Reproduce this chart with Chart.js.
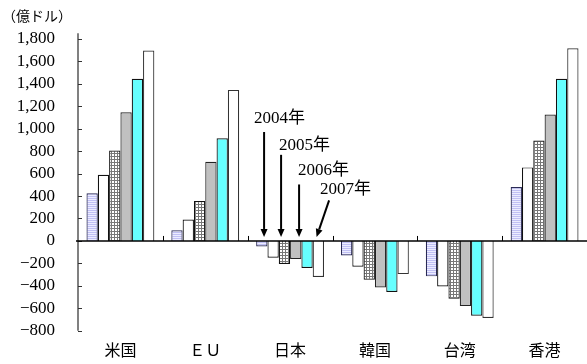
<!DOCTYPE html>
<html><head><meta charset="utf-8">
<script src="https://cdn.jsdelivr.net/npm/chart.js@4.4.1/dist/chart.umd.min.js"></script>
<style>html,body{margin:0;padding:0;background:#fff;}
.pre{font-family:'Liberation Serif';position:absolute;left:-999px;top:0}
.pre2{font-family:'Noto Sans CJK JP';position:absolute;left:-999px;top:0}</style>
</head><body>
<span class="pre">0123</span><span class="pre2">米国</span>
<canvas id="c" width="587" height="364"></canvas>
<script>
// ---- data ----
const categories = ['米国', 'ＥＵ', '日本', '韓国', '台湾', '香港'];
const seriesNames = ['2002年', '2003年', '2004年', '2005年', '2006年', '2007年'];
const y2002 = [425, 95, -50, -130, -315, 480];
const y2003 = [590, 190, -150, -230, -405, 655];
const y2004 = [805, 355, -205, -345, -515, 895];
const y2005 = [1145, 705, -160, -415, -580, 1125];
const y2006 = [1445, 915, -240, -455, -665, 1445];
const y2007 = [1695, 1345, -320, -295, -685, 1715];
const yTickValues = [-800, -600, -400, -200, 0, 200, 400, 600, 800, 1000, 1200, 1400, 1600, 1800];
const yTickLabels = ['−800', '−600', '−400', '−200', '0', '200', '400', '600', '800', '1,000', '1,200', '1,400', '1,600', '1,800'];
const unitLabel = '（億ドル）';
const annotationLabels = ['2004年', '2005年', '2006年', '2007年'];

const SERIF = '"Liberation Serif", "Noto Sans CJK JP", serif';

function makePattern(kind) {
  const c = document.createElement('canvas');
  const x = c.getContext('2d');
  if (kind === 'stripe') {
    c.width = 4; c.height = 2;
    x.fillStyle = '#c0c0f4'; x.fillRect(0, 0, 4, 1);
    x.fillStyle = '#ececff'; x.fillRect(0, 1, 4, 1);
  } else {
    c.width = 3; c.height = 3;
    x.fillStyle = '#ffffff'; x.fillRect(0, 0, 3, 3);
    x.fillStyle = '#777777'; x.fillRect(0, 0, 3, 1); x.fillRect(0, 0, 1, 3);
  }
  return x.createPattern(c, 'repeat');
}

const seriesData = [y2002, y2003, y2004, y2005, y2006, y2007];

const decor = {
  id: 'decor',
  beforeDraw(chart) {
    const ctx = chart.ctx;
    ctx.save();
    ctx.fillStyle = '#fff';
    ctx.fillRect(0, 0, chart.width, chart.height);
    ctx.restore();
  },
  afterDatasetsDraw(chart) {
    const ctx = chart.ctx;
    const xs = chart.scales.x, ys = chart.scales.y, a = chart.chartArea;
    const y0 = ys.getPixelForValue(0);
    ctx.save();
    ctx.strokeStyle = '#808080';
    ctx.lineWidth = 2;
    ctx.beginPath(); ctx.moveTo(a.left, a.top); ctx.lineTo(a.left, a.bottom); ctx.stroke();
    ctx.strokeStyle = '#333';
    ctx.lineWidth = 1;
    yTickValues.forEach(v => {
      const py = Math.round(ys.getPixelForValue(v)) + 0.5;
      ctx.beginPath(); ctx.moveTo(a.left, py); ctx.lineTo(a.left + 4, py); ctx.stroke();
    });
    ctx.strokeStyle = '#000';
    ctx.lineWidth = 1.5;
    ctx.beginPath(); ctx.moveTo(a.left - 2, y0); ctx.lineTo(a.right, y0); ctx.stroke();
    ctx.lineWidth = 1;
    for (let i = 1; i < categories.length; i++) {
      const px = Math.round((xs.getPixelForValue(i - 1) + xs.getPixelForValue(i)) / 2) + 0.5;
      ctx.beginPath(); ctx.moveTo(px, y0); ctx.lineTo(px, y0 - 5); ctx.stroke();
    }
    ctx.fillStyle = '#000';
    ctx.font = '14px ' + SERIF;
    ctx.textBaseline = 'middle';
    ctx.textAlign = 'left';
    ctx.fillText(unitLabel, 2, 17);
    const cx = xs.getPixelForValue(2);
    const texts = [[-36, 1090], [-11, 850], [8, 630], [30, 462]];
    const arrows = [[-26, 970, -26], [-9, 767, -9], [9, 503, 9], [39, 362, 26.5]];
    ctx.font = '17px ' + SERIF;
    annotationLabels.forEach((t, i) => {
      ctx.fillText(t, cx + texts[i][0], ys.getPixelForValue(texts[i][1]));
    });
    ctx.strokeStyle = '#000';
    ctx.lineWidth = 2;
    arrows.forEach(ar => {
      const x1 = cx + ar[0], y1 = ys.getPixelForValue(ar[1]);
      const x2 = cx + ar[2], y2 = y0 - 4;
      const ang = Math.atan2(y2 - y1, x2 - x1);
      const hl = 8, hw = 3.5;
      const bx = x2 - hl * Math.cos(ang), by = y2 - hl * Math.sin(ang);
      ctx.beginPath(); ctx.moveTo(x1, y1); ctx.lineTo(bx, by); ctx.stroke();
      ctx.beginPath();
      ctx.moveTo(x2, y2);
      ctx.lineTo(bx + hw * Math.sin(ang), by - hw * Math.cos(ang));
      ctx.lineTo(bx - hw * Math.sin(ang), by + hw * Math.cos(ang));
      ctx.closePath();
      ctx.fillStyle = '#000';
      ctx.fill();
    });
    ctx.restore();
  }
};

function build() {
  const fills = [makePattern('stripe'), '#ffffff', makePattern('grid'), '#c0c0c0', '#66ffff', '#ffffff'];
  const borders = ['#2a2a55', '#111111', '#111111', '#222222', '#111111', '#333333'];
  new Chart(document.getElementById('c'), {
    type: 'bar',
    data: {
      labels: categories,
      datasets: seriesData.map((d, i) => ({
        label: seriesNames[i],
        data: d,
        backgroundColor: fills[i],
        borderColor: borders[i],
        borderWidth: 1.2,
        categoryPercentage: 0.8,
        barPercentage: 1.0
      }))
    },
    options: {
      responsive: false,
      animation: false,
      devicePixelRatio: 1,
      layout: { padding: { top: 30, right: 0, bottom: 0, left: 0 } },
      plugins: { legend: { display: false }, tooltip: { enabled: false } },
      scales: {
        x: {
          grid: { display: false, drawTicks: false },
          border: { display: false },
          ticks: { color: '#000', font: { family: SERIF, size: 16 }, padding: 11, maxRotation: 0 },
          afterFit(s) { s.height = 33; }
        },
        y: {
          min: -800, max: 1850,
          grid: { display: false, drawTicks: false },
          border: { display: false },
          afterBuildTicks(s) { s.ticks = yTickValues.map(v => ({ value: v })); },
          ticks: {
            color: '#000', font: { family: SERIF, size: 17 }, padding: 23,
            callback(v) { const k = yTickValues.indexOf(v); return k >= 0 ? yTickLabels[k] : ''; }
          },
          afterFit(s) { s.width = 78; }
        }
      }
    },
    plugins: [decor]
  });
}

Promise.all([
  document.fonts.load('16px "Liberation Serif"', '0123'),
  document.fonts.load('16px "Noto Sans CJK JP"', '米国')
]).catch(() => {}).then(build);
</script>
</body></html>
